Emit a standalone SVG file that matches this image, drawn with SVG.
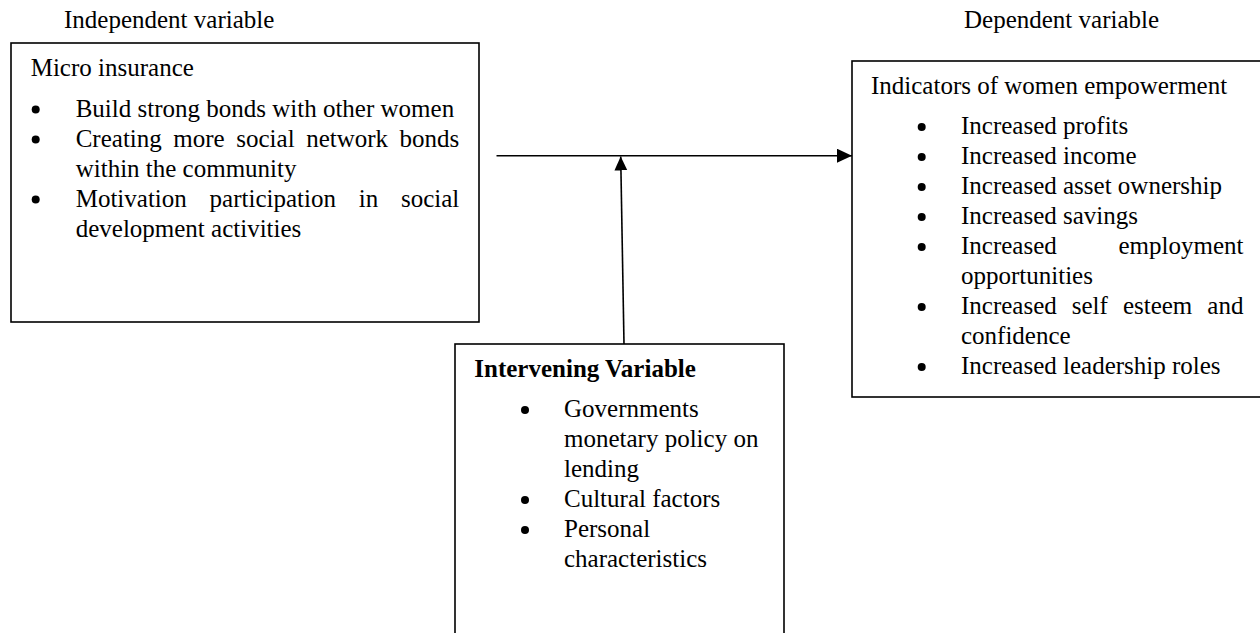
<svg xmlns="http://www.w3.org/2000/svg" width="1260" height="633" viewBox="0 0 1260 633">
<style>
text{font-family:"Liberation Serif","Times New Roman",serif;font-size:25px;fill:#000}
.b{font-weight:bold}
.box{fill:#fff;stroke:#000;stroke-width:1.6}
.dot{fill:#000}
.con{stroke:#000;stroke-width:1.6;fill:none}
</style>
<defs>
<marker id="arr" markerUnits="userSpaceOnUse" markerWidth="16" markerHeight="16" refX="15" refY="7" orient="auto">
<path d="M0,0 L15,7 L0,14 Z" fill="#000"/>
</marker>
<marker id="arr2" markerUnits="userSpaceOnUse" markerWidth="16" markerHeight="16" refX="14" refY="6.5" orient="auto">
<path d="M0,0 L14,6.5 L0,13 Z" fill="#000"/>
</marker>
</defs>
<rect width="1260" height="633" fill="#fff"/>
<text x="64" y="28">Independent variable</text>
<text x="964" y="28">Dependent variable</text>
<g id="independent">
<rect class="box" x="11" y="43" width="468" height="279"/>
<text x="30.7" y="76">Micro insurance</text>
<circle class="dot" cx="35.7" cy="109.5" r="4"/>
<circle class="dot" cx="35.7" cy="139.5" r="4"/>
<circle class="dot" cx="35.7" cy="199.5" r="4"/>
<text x="75.7" y="116.5">Build strong bonds with other women</text>
<text y="146.5"><tspan x="75.7">Creating</tspan> <tspan x="173.3">more</tspan> <tspan x="236.3">social</tspan> <tspan x="306.2">network</tspan> <tspan x="399.6">bonds</tspan></text>
<text x="75.7" y="176.5">within the community</text>
<text y="206.5"><tspan x="75.7">Motivation</tspan> <tspan x="209.6">participation</tspan> <tspan x="358.8">in</tspan> <tspan x="401">social</tspan></text>
<text x="75.7" y="236.5">development activities</text>
</g>
<g id="dependent">
<rect class="box" x="852" y="61" width="420" height="336"/>
<text x="871" y="93.5">Indicators of women empowerment</text>
<circle class="dot" cx="921.7" cy="127" r="4"/>
<circle class="dot" cx="921.7" cy="157" r="4"/>
<circle class="dot" cx="921.7" cy="187" r="4"/>
<circle class="dot" cx="921.7" cy="217" r="4"/>
<circle class="dot" cx="921.7" cy="247" r="4"/>
<circle class="dot" cx="921.7" cy="307" r="4"/>
<circle class="dot" cx="921.7" cy="367" r="4"/>
<text x="961" y="134">Increased profits</text>
<text x="961" y="164">Increased income</text>
<text x="961" y="194">Increased asset ownership</text>
<text x="961" y="224">Increased savings</text>
<text y="254"><tspan x="961">Increased</tspan><tspan x="1118.5">employment</tspan></text>
<text x="961" y="284">opportunities</text>
<text y="314"><tspan x="961">Increased</tspan><tspan x="1071.8">self</tspan><tspan x="1122.9">esteem</tspan><tspan x="1207.3">and</tspan></text>
<text x="961" y="344">confidence</text>
<text x="961" y="374">Increased leadership roles</text>
</g>
<g id="intervening">
<rect class="box" x="455" y="344" width="329" height="310"/>
<text class="b" x="474.3" y="376.5">Intervening Variable</text>
<circle class="dot" cx="525" cy="410" r="4"/>
<circle class="dot" cx="525" cy="500" r="4"/>
<circle class="dot" cx="525" cy="530" r="4"/>
<text x="564" y="417">Governments</text>
<text x="564" y="447">monetary policy on</text>
<text x="564" y="477">lending</text>
<text x="564" y="507">Cultural factors</text>
<text x="564" y="537">Personal</text>
<text x="564" y="567">characteristics</text>
</g>
<g id="connectors">
<line class="con" x1="496.5" y1="155.7" x2="852" y2="155.7" marker-end="url(#arr)"/>
<line class="con" x1="624" y1="344" x2="620.7" y2="156.5" marker-end="url(#arr2)"/>
</g>
</svg>
